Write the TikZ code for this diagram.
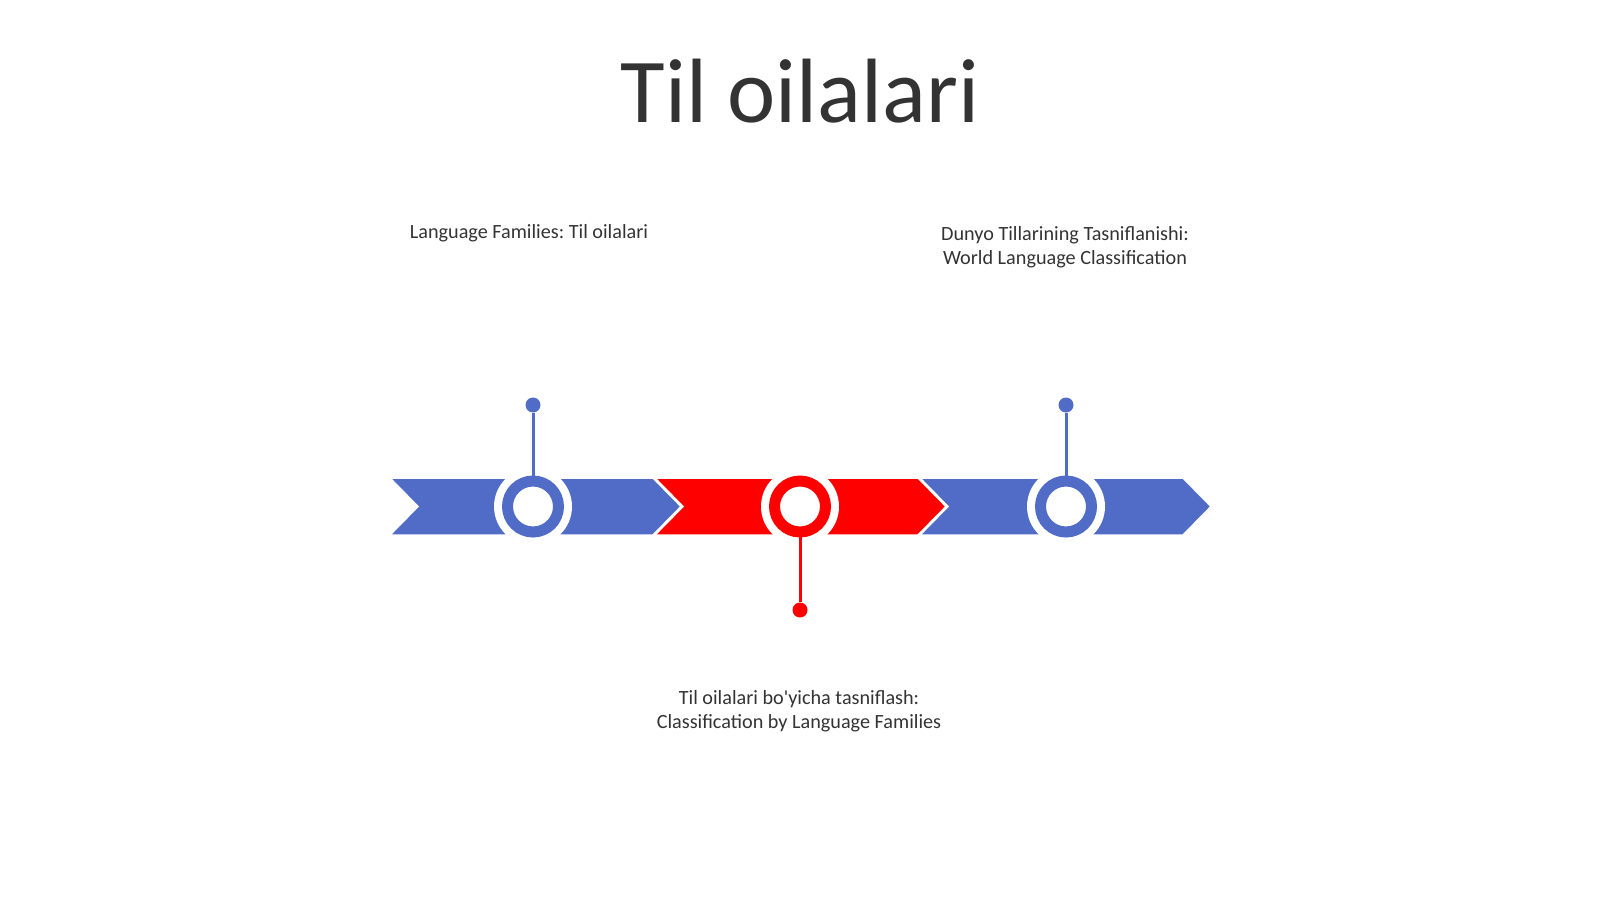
\documentclass[tikz,border=0pt]{standalone}
\usepackage{fontspec}
\setmainfont{Carlito}
\usetikzlibrary{positioning}
\definecolor{tlblue}{RGB}{80,108,198}
\definecolor{tlred}{RGB}{255,0,0}
\definecolor{tltext}{RGB}{51,51,51}
\frenchspacing
\begin{document}
\begin{tikzpicture}[x=0.02cm,y=-0.02cm,
    halo/.style={circle,fill=white,inner sep=0pt,minimum size=1.56cm},
    ring/.style={circle,draw=#1,fill=white,line width=0.22cm,inner sep=0pt,minimum size=1.02cm},
    knob/.style={circle,fill=#1,inner sep=0pt,minimum size=0.3cm},
    stem/.style={draw=#1,line width=0.06cm},
    caption/.style={font=\fontsize{11.5}{13.6}\selectfont,text=tltext,align=center}]
        \useasboundingbox (0,0) rectangle (1600,899);

        % sarlavha
        \node[font=\fontsize{52}{60}\selectfont,text=tltext,anchor=base] (title) at (800,122) {Til oilalari};

        % strelkalar
        \foreach \x/\c in {390/tlblue,655/tlred,920/tlblue}{
            \draw[fill=\c,draw=white,line width=0.03cm]
                (\x,478) -- (\x+263,478) -- (\x+291,506.5) -- (\x+263,535)
                -- (\x,535) -- (\x+28,506.5) -- cycle;
        }

        % doiralar
        \node[halo] at (533,506.5) {};
        \node[halo] at (800,506.5) {};
        \node[halo] at (1066,506.5) {};
        \node[ring=tlblue] (ringA) at (533,506.5) {};
        \node[ring=tlred] (ringB) at (800,506.5) {};
        \node[ring=tlblue] (ringC) at (1066,506.5) {};

        % tayoqchalar
        \node[knob=tlblue] (knobA) at (533,405) {};
        \node[knob=tlred] (knobB) at (800,610) {};
        \node[knob=tlblue] (knobC) at (1066,405) {};
        \draw[stem=tlblue] (knobA) -- (ringA);
        \draw[stem=tlred] (knobB) -- (ringB);
        \draw[stem=tlblue] (knobC) -- (ringC);

        % matnlar
        \node[caption] (capA) at (529,233) {Language Families: Til oilalari};
        \node[caption] (capC) at (1065,247) {Dunyo Tillarining Tasniflanishi:\\World Language Classification};
        \node[caption] (capB) at (799,711) {Til oilalari bo\textquotesingle yicha tasniflash:\\Classification by Language Families};
\end{tikzpicture}
\end{document}
